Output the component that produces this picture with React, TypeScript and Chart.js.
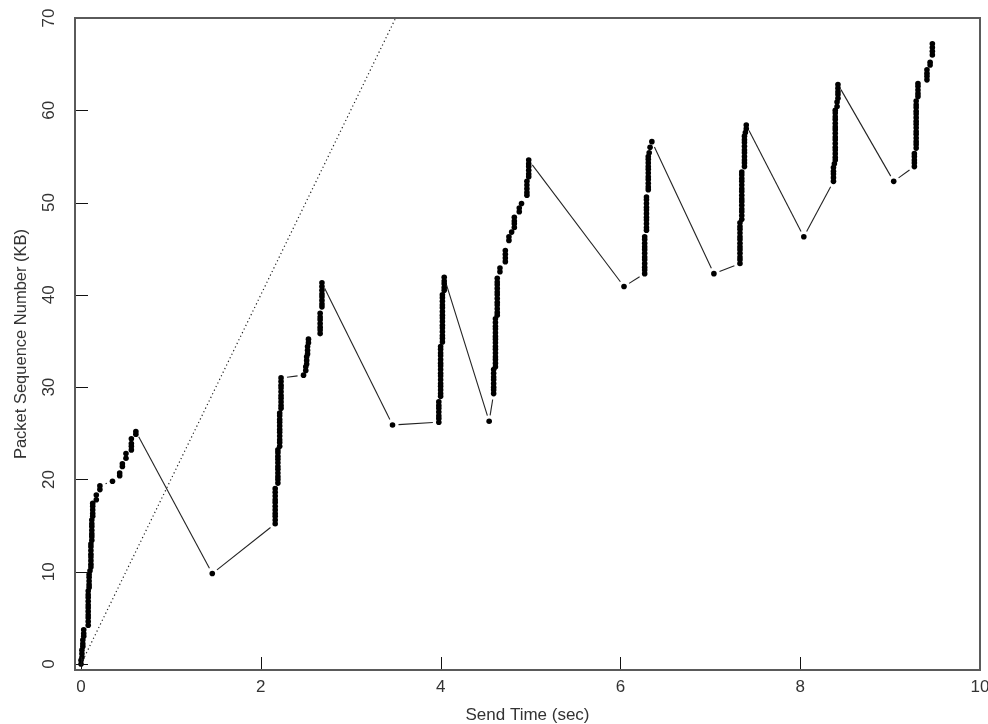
import React, { useEffect, useRef } from 'react';
import { Chart, registerables } from 'chart.js';

Chart.register(...registerables);

const FONT = 'Liberation Sans, Arial, sans-serif';

const xTicks = [0, 2, 4, 6, 8, 10];
const yTicks = [0, 10, 20, 30, 40, 50, 60, 70];

// [send time (sec), sequence number (KB)]
const flight1: [number, number][] = [
  [0.0, 0.0], [0.0, 0.4], [0.01, 0.7], [0.01, 1.1], [0.01, 1.5], [0.02, 1.9], [0.02, 2.2], [0.02, 2.6], [0.03, 3.0], [0.03, 3.3], [0.03, 3.7],
  [0.08, 4.2], [0.08, 4.6], [0.08, 5.0], [0.08, 5.3], [0.08, 5.7], [0.08, 6.1], [0.08, 6.4], [0.08, 6.8], [0.08, 7.2], [0.08, 7.5], [0.08, 7.9], [0.09, 8.3], [0.09, 8.6], [0.09, 9.0], [0.09, 9.4], [0.09, 9.7],
  [0.1, 10.1], [0.11, 10.5], [0.11, 10.8], [0.11, 11.2], [0.11, 11.6], [0.11, 11.9], [0.11, 12.3], [0.11, 12.7], [0.11, 13.0], [0.12, 13.4], [0.12, 13.8], [0.12, 14.1], [0.12, 14.5], [0.12, 14.9], [0.12, 15.2], [0.12, 15.6], [0.13, 16.0], [0.13, 16.3], [0.13, 16.7], [0.13, 17.1], [0.13, 17.4],
  [0.17, 17.8], [0.17, 18.3], [0.21, 18.9], [0.21, 19.3],
  [0.35, 19.8],
  [0.43, 20.4], [0.43, 20.7], [0.46, 21.4], [0.46, 21.7], [0.5, 22.3], [0.5, 22.8], [0.56, 23.2], [0.56, 23.6], [0.56, 23.9], [0.56, 24.4], [0.61, 24.9], [0.61, 25.2],
];
const flight2: [number, number][] = [
  [2.16, 15.2], [2.16, 15.6], [2.16, 16.0], [2.16, 16.3], [2.16, 16.7], [2.16, 17.1], [2.16, 17.5], [2.16, 17.8], [2.16, 18.2], [2.16, 18.6], [2.16, 19.0],
  [2.19, 19.6], [2.19, 20.0], [2.19, 20.3], [2.19, 20.7], [2.19, 21.1], [2.19, 21.4], [2.19, 21.8], [2.19, 22.2], [2.19, 22.5], [2.19, 22.9], [2.19, 23.2],
  [2.21, 23.6], [2.21, 24.0], [2.21, 24.3], [2.21, 24.7], [2.21, 25.1], [2.21, 25.4], [2.21, 25.8], [2.21, 26.2], [2.21, 26.5], [2.21, 26.9], [2.21, 27.2],
  [2.225, 27.7], [2.225, 28.0], [2.225, 28.4], [2.225, 28.8], [2.225, 29.1], [2.225, 29.5], [2.225, 29.9], [2.225, 30.2], [2.225, 30.6], [2.225, 31.0],
  [2.475, 31.3],
  [2.5, 31.8], [2.5, 32.2], [2.51, 32.5], [2.51, 32.9], [2.51, 33.3], [2.52, 33.6], [2.52, 34.0], [2.52, 34.4], [2.53, 34.8], [2.53, 35.2],
  [2.66, 35.8], [2.66, 36.2], [2.66, 36.5], [2.66, 36.9], [2.66, 37.3], [2.66, 37.6], [2.66, 38.0],
  [2.68, 38.7], [2.68, 39.0], [2.68, 39.4], [2.68, 39.8], [2.68, 40.1], [2.68, 40.5], [2.68, 40.9], [2.68, 41.3],
];
const flight3: [number, number][] = [
  [3.98, 26.2], [3.98, 26.6], [3.98, 26.9], [3.98, 27.3], [3.98, 27.7], [3.98, 28.0], [3.98, 28.4],
  [4.0, 29.0], [4.0, 29.3], [4.0, 29.7], [4.0, 30.1], [4.0, 30.4], [4.0, 30.8], [4.0, 31.2], [4.0, 31.5], [4.0, 31.9], [4.0, 32.3], [4.0, 32.6], [4.0, 33.0], [4.0, 33.4], [4.0, 33.7], [4.0, 34.1], [4.0, 34.4],
  [4.02, 34.9], [4.02, 35.3], [4.02, 35.6], [4.02, 36.0], [4.02, 36.4], [4.02, 36.7], [4.02, 37.1], [4.02, 37.5], [4.02, 37.8], [4.02, 38.2], [4.02, 38.6], [4.02, 38.9], [4.02, 39.3], [4.02, 39.7], [4.02, 40.0],
  [4.04, 40.5], [4.04, 40.8], [4.04, 41.2], [4.04, 41.5], [4.04, 41.9],
];
const flight4: [number, number][] = [
  [4.59, 29.3], [4.59, 29.7], [4.59, 30.0], [4.59, 30.4], [4.59, 30.8], [4.59, 31.1], [4.59, 31.5], [4.59, 31.9],
  [4.61, 32.2], [4.61, 32.6], [4.61, 33.0], [4.61, 33.3], [4.61, 33.7], [4.61, 34.1], [4.61, 34.4], [4.61, 34.8], [4.61, 35.2], [4.61, 35.5], [4.61, 35.9], [4.61, 36.3], [4.61, 36.6], [4.61, 37.0], [4.61, 37.4],
  [4.63, 37.8], [4.63, 38.1], [4.63, 38.5], [4.63, 38.9], [4.63, 39.2], [4.63, 39.6], [4.63, 40.0], [4.63, 40.3], [4.63, 40.7], [4.63, 41.1], [4.63, 41.4], [4.63, 41.8],
  [4.66, 42.5], [4.66, 42.9],
  [4.72, 43.6], [4.72, 44.0], [4.72, 44.4], [4.72, 44.8],
  [4.76, 45.9], [4.76, 46.3], [4.79, 46.8],
  [4.82, 47.3], [4.82, 47.7], [4.82, 48.0], [4.82, 48.4],
  [4.875, 49.0], [4.875, 49.4], [4.9, 49.9],
  [4.96, 50.8], [4.96, 51.1], [4.96, 51.5], [4.96, 51.9], [4.96, 52.3],
  [4.98, 52.8], [4.98, 53.1], [4.98, 53.5], [4.98, 53.9], [4.98, 54.2], [4.98, 54.6],
];
const flight5: [number, number][] = [
  [6.27, 42.3], [6.27, 42.7], [6.27, 43.0], [6.27, 43.4], [6.27, 43.8], [6.27, 44.1], [6.27, 44.5], [6.27, 44.9], [6.27, 45.2], [6.27, 45.6], [6.27, 46.0], [6.27, 46.3],
  [6.29, 47.0], [6.29, 47.3], [6.29, 47.7], [6.29, 48.1], [6.29, 48.4], [6.29, 48.8], [6.29, 49.2], [6.29, 49.5], [6.29, 49.9], [6.29, 50.3], [6.29, 50.6],
  [6.31, 51.4], [6.31, 51.7], [6.31, 52.1], [6.31, 52.5], [6.31, 52.8], [6.31, 53.2], [6.31, 53.6], [6.31, 53.9], [6.31, 54.3], [6.31, 54.7], [6.31, 55.0],
  [6.32, 55.4], [6.33, 56.0], [6.35, 56.6],
];
const flight6: [number, number][] = [
  [7.33, 43.4], [7.33, 43.8], [7.33, 44.1], [7.33, 44.5], [7.33, 44.9], [7.33, 45.2], [7.33, 45.6], [7.33, 46.0], [7.33, 46.3], [7.33, 46.7], [7.33, 47.1], [7.33, 47.4], [7.33, 47.8],
  [7.35, 48.2], [7.35, 48.6], [7.35, 49.0], [7.35, 49.3], [7.35, 49.7], [7.35, 50.1], [7.35, 50.4], [7.35, 50.8], [7.35, 51.2], [7.35, 51.5], [7.35, 51.9], [7.35, 52.3], [7.35, 52.6], [7.35, 53.0], [7.35, 53.3],
  [7.38, 53.9], [7.38, 54.3], [7.38, 54.6], [7.38, 55.0], [7.38, 55.4], [7.38, 55.7], [7.38, 56.1], [7.38, 56.5], [7.38, 56.8], [7.38, 57.2],
  [7.39, 57.6], [7.4, 58.0], [7.4, 58.4],
];
const flight7: [number, number][] = [
  [8.37, 52.3], [8.37, 52.7], [8.37, 53.1], [8.37, 53.4], [8.37, 53.8],
  [8.38, 54.2], [8.39, 54.6], [8.39, 54.9], [8.39, 55.3], [8.39, 55.7], [8.39, 56.0], [8.39, 56.4], [8.39, 56.8], [8.39, 57.1], [8.39, 57.5], [8.39, 57.9], [8.39, 58.2], [8.39, 58.6], [8.39, 59.0], [8.39, 59.3], [8.39, 59.7], [8.39, 60.0],
  [8.41, 60.4], [8.41, 60.9],
  [8.42, 61.3], [8.42, 61.7], [8.42, 62.0], [8.42, 62.4], [8.42, 62.8],
];
const flight8: [number, number][] = [
  [9.27, 53.9], [9.27, 54.3], [9.27, 54.6], [9.27, 55.0], [9.27, 55.3],
  [9.29, 55.9], [9.29, 56.3], [9.29, 56.6], [9.29, 57.0], [9.29, 57.4], [9.29, 57.7], [9.29, 58.1], [9.29, 58.5], [9.29, 58.8], [9.29, 59.2], [9.29, 59.6], [9.29, 59.9], [9.29, 60.3], [9.29, 60.6], [9.29, 61.0],
  [9.31, 61.5], [9.31, 61.8], [9.31, 62.2], [9.31, 62.6], [9.31, 62.9],
  [9.41, 63.3], [9.41, 63.7], [9.41, 64.0], [9.41, 64.4],
  [9.445, 64.9], [9.445, 65.2],
  [9.47, 66.0], [9.47, 66.4], [9.47, 66.8], [9.47, 67.2],
];
// retransmitted packets between flights
const retransmits: [number, number][] = [
  [1.46, 9.8], [3.465, 25.9], [4.54, 26.3], [6.04, 40.9], [7.04, 42.3], [8.04, 46.3], [9.04, 52.3],
];
// dotted reference line
const refLine: [number, number][] = [[0, 0], [3.5, 70]];

const sendOrder: [number, number][] = [
  ...flight1, retransmits[0],
  ...flight2, retransmits[1],
  ...flight3, retransmits[2],
  ...flight4, retransmits[3],
  ...flight5, retransmits[4],
  ...flight6, retransmits[5],
  ...flight7, retransmits[6],
  ...flight8,
];

const gapLinesPlugin = {
  id: 'gapLines',
  beforeDatasetsDraw(chart: any) {
    const meta = chart.getDatasetMeta(1);
    const pts = meta.data;
    const ctx = chart.ctx;
    const ca = chart.chartArea;
    const gap = 6;
    ctx.save();
    ctx.beginPath();
    ctx.rect(ca.left, ca.top, ca.right - ca.left, ca.bottom - ca.top);
    ctx.clip();
    ctx.strokeStyle = '#222';
    ctx.lineWidth = 1.1;
    for (let i = 1; i < pts.length; i++) {
      const a = pts[i - 1];
      const b = pts[i];
      const dx = b.x - a.x;
      const dy = b.y - a.y;
      const d = Math.hypot(dx, dy);
      if (d <= 2 * gap + 1) continue;
      const ux = dx / d;
      const uy = dy / d;
      ctx.beginPath();
      ctx.moveTo(a.x + ux * gap, a.y + uy * gap);
      ctx.lineTo(b.x - ux * gap, b.y - uy * gap);
      ctx.stroke();
    }
    ctx.restore();
  },
};

const framePlugin = {
  id: 'frame',
  afterDraw(chart: any) {
    const ctx = chart.ctx;
    const ca = chart.chartArea;
    const xs = chart.scales.x;
    const ys = chart.scales.y;
    ctx.save();
    // inward ticks
    ctx.strokeStyle = '#111';
    ctx.lineWidth = 1;
    xTicks.forEach((v) => {
      const px = Math.round(xs.getPixelForValue(v)) + 0.5;
      ctx.beginPath();
      ctx.moveTo(px, ca.bottom);
      ctx.lineTo(px, ca.bottom - 13);
      ctx.stroke();
    });
    yTicks.forEach((v) => {
      const py = Math.round(ys.getPixelForValue(v)) + 0.5;
      ctx.beginPath();
      ctx.moveTo(ca.left, py);
      ctx.lineTo(ca.left + 13, py);
      ctx.stroke();
    });
    // box
    ctx.strokeStyle = '#5a5a5a';
    ctx.lineWidth = 2;
    ctx.strokeRect(ca.left, ca.top, ca.right - ca.left, ca.bottom - ca.top);
    // tick labels
    ctx.fillStyle = '#333';
    ctx.font = `17px ${FONT}`;
    ctx.textAlign = 'center';
    ctx.textBaseline = 'middle';
    xTicks.forEach((v) => {
      const px = xs.getPixelForValue(v);
      ctx.fillText(String(v), px, ca.bottom + 17);
    });
    yTicks.forEach((v) => {
      const py = ys.getPixelForValue(v);
      ctx.save();
      ctx.translate(49, py);
      ctx.rotate(-Math.PI / 2);
      ctx.fillText(String(v), 0, 0);
      ctx.restore();
    });
    ctx.restore();
  },
};

export default function App() {
  const canvasRef = useRef<HTMLCanvasElement | null>(null);

  useEffect(() => {
    if (!canvasRef.current) return;
    const chart = new Chart(canvasRef.current, {
      type: 'scatter',
      data: {
        datasets: [
          {
            label: 'reference',
            data: refLine.map(([x, y]) => ({ x, y })),
            showLine: true,
            borderColor: '#222',
            borderWidth: 1.2,
            borderDash: [1.2, 2.8],
            pointRadius: 0,
            fill: false,
          },
          {
            label: 'packets',
            data: sendOrder.map(([x, y]) => ({ x, y })),
            showLine: false,
            pointRadius: 2.8,
            pointBackgroundColor: '#000',
            pointBorderWidth: 0,
            pointBorderColor: '#000',
          },
        ],
      },
      options: {
        responsive: false,
        animation: false,
        events: [],
        layout: { padding: { top: 18, right: 8, left: 0, bottom: 0 } },
        plugins: {
          legend: { display: false },
          tooltip: { enabled: false },
        },
        scales: {
          x: {
            type: 'linear',
            min: -0.067,
            max: 10,
            afterBuildTicks: (s: any) => {
              s.ticks = xTicks.map((v) => ({ value: v }));
            },
            afterFit: (s: any) => {
              s.height = 54;
            },
            grid: { display: false, drawTicks: false },
            border: { display: false },
            ticks: { display: false },
            title: {
              display: true,
              text: 'Send Time (sec)',
              color: '#333',
              font: { family: FONT, size: 17 },
              padding: { top: 0, bottom: -1.5 },
            },
          },
          y: {
            type: 'linear',
            min: -0.65,
            max: 70,
            afterBuildTicks: (s: any) => {
              s.ticks = yTicks.map((v) => ({ value: v }));
            },
            afterFit: (s: any) => {
              s.width = 75;
            },
            grid: { display: false, drawTicks: false },
            border: { display: false },
            ticks: { display: false },
            title: {
              display: true,
              text: 'Packet Sequence Number (KB)',
              color: '#333',
              font: { family: FONT, size: 16.5 },
              padding: { top: 12, bottom: 0 },
            },
          },
        },
      },
      plugins: [gapLinesPlugin, framePlugin],
    });
    return () => chart.destroy();
  }, []);

  return (
    <div style={{ position: 'absolute', left: 0, top: 0, width: 988, height: 724, background: '#fff' }}>
      <canvas ref={canvasRef} width={988} height={724} style={{ display: 'block', width: 988, height: 724 }} />
    </div>
  );
}
